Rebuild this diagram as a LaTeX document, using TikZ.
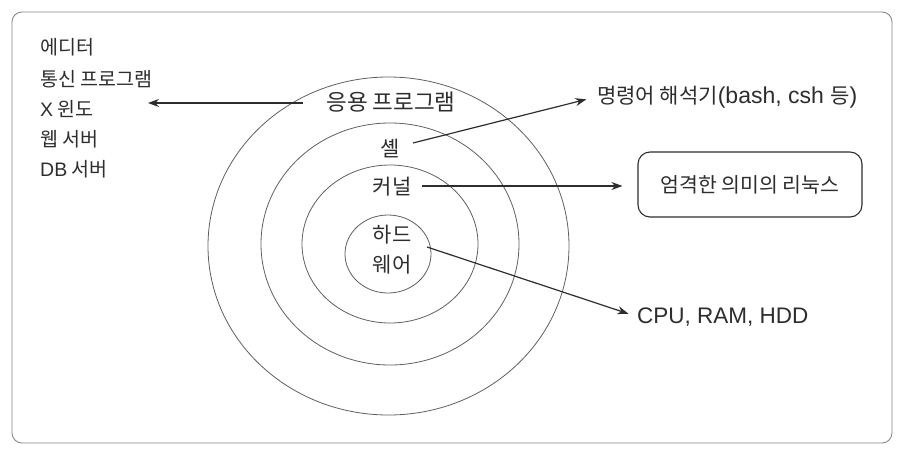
\documentclass[tikz,border=0pt]{standalone}
\usepackage{fontspec}
\setmainfont{Liberation Sans}
\newfontfamily\kr{Noto Sans CJK KR}
\usetikzlibrary{arrows.meta,shapes.geometric}
\definecolor{ink}{RGB}{45,45,45}
\definecolor{ringc}{RGB}{95,95,95}
\definecolor{framec}{RGB}{130,130,130}
\newcommand\latn[1]{{\normalfont #1}}
\begin{document}
\begin{tikzpicture}[x=1pt,y=-1pt,
  lbl/.style={inner sep=0pt, anchor=base, text=ink, font={\kr\fontsize{19.5}{22}\selectfont}},
  big/.style={font={\kr\fontsize{21}{24}\selectfont}},
  ring/.style={ellipse, draw=ringc, line width=0.8pt, inner sep=0pt},
  boxed/.style={draw=ink, line width=1.1pt, rounded corners=12pt, minimum width=224pt, minimum height=65pt, anchor=center},
  arr/.style={draw=ink, line width=1.2pt, -{Stealth[length=11pt,width=8pt]}}]
\useasboundingbox (0,0) rectangle (903,453);
\draw[draw=framec, line width=0.8pt, rounded corners=10pt] (12,12) rectangle (892,443);
% rings
\node[ring, minimum width=361pt, minimum height=338pt] (r1) at (388.5,246) {};
\node[ring, minimum width=258pt, minimum height=242pt] (r2) at (390,244) {};
\node[ring, minimum width=176pt, minimum height=158pt] (r3) at (390,244) {};
\node[ring, minimum width=86pt, minimum height=78pt] (r4) at (388,254) {};
% ring labels
\node[lbl, font={\kr\fontsize{22.5}{26}\selectfont}] (app) at (391,110) {응용 프로그램};
\node[lbl, big] (shell) at (390,156) {셸};
\node[lbl, big] (kernel) at (392,194) {커널};
\node[lbl, big] (hw1) at (392,242) {하드};
\node[lbl, big] (hw2) at (392,272) {웨어};
% left list
\node[lbl, anchor=base west] (l1) at (40,54) {에디터};
\node[lbl, anchor=base west] (l2) at (40,86) {통신 프로그램};
\node[lbl, anchor=base west] (l3) at (40,116) {\latn{X} 윈도};
\node[lbl, anchor=base west] (l4) at (40,146) {웹 서버};
\node[lbl, anchor=base west] (l5) at (40,176) {\latn{DB} 서버};
% right side
\node[lbl, big, anchor=base west] (cmd) at (597,103) {명령어 해석기\latn{\fontsize{23}{26}\selectfont(bash, csh }등\latn{\fontsize{23}{26}\selectfont)}};
\node[lbl, boxed, font={\kr\fontsize{20.5}{24}\selectfont}] (linux) at (750,184.5) {엄격한 의미의 리눅스};
\node[lbl, anchor=base west] (cpu) at (637,323) {\latn{\fontsize{22.5}{25}\selectfont CPU, RAM, HDD}};
% connectors
\coordinate (appS) at (303,103);
\coordinate (listT) at (148,103);
\draw[arr] (appS) -- (listT);
\coordinate (shellS) at (413,143);
\draw[arr, shorten >=11pt] (shellS) -- (cmd.west);
\coordinate (kernS) at (422,186);
\draw[arr, shorten >=15pt] (kernS) -- (kernS -| linux.west);
\coordinate (hwS) at (427,247);
\draw[arr, shorten >=9pt] (hwS) -- (cpu.west);
\end{tikzpicture}
\end{document}
